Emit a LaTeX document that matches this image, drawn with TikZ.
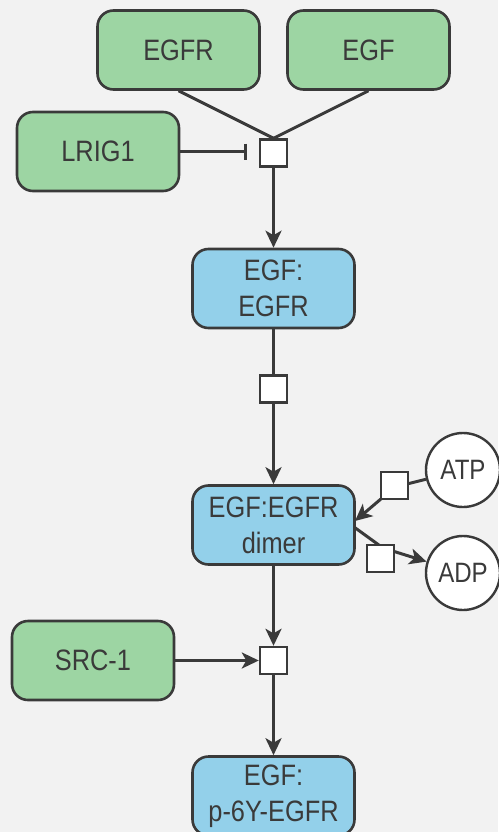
\documentclass[tikz,border=0pt]{standalone}
\usepackage{fontspec}
\setmainfont[FakeStretch=0.86]{Liberation Sans}
\usetikzlibrary{arrows.meta}
\definecolor{bg}{HTML}{F2F2F2}
\definecolor{gfill}{HTML}{9DD5A3}
\definecolor{bfill}{HTML}{93D0EA}
\definecolor{ink}{HTML}{3A3A3A}
\tikzset{
  ent/.style={draw=ink, line width=2.6pt, rounded corners=16pt, minimum width=162pt, minimum height=79pt, inner sep=0pt, text=ink, font=\fontsize{29.5}{36}\selectfont, align=center},
  gent/.style={ent, fill=gfill},
  bent/.style={ent, fill=bfill},
  proc/.style={draw=ink, line width=2.4pt, fill=white, minimum size=27pt, inner sep=0pt},
  mol/.style={draw=ink, line width=2.4pt, fill=white, circle, minimum size=74pt, inner sep=0pt, text=ink, font=\fontsize{28}{30}\selectfont},
  conn/.style={draw=ink, line width=3pt},
  arr/.style={conn, -{Stealth[length=17pt,width=16pt,inset=4.5pt]}},
  inh/.style={conn, -{Bar[width=16pt,line width=3pt]}}
}
\begin{document}
\begin{tikzpicture}[x=1pt,y=-1pt]
\fill[bg] (0,0) rectangle (498,832);
\useasboundingbox (0,0) rectangle (498,832);
\node[gent] (EGFR) at (178.5,50) {EGFR};
\node[gent] (EGF) at (368.5,50) {EGF};
\node[gent] (LRIG) at (98,151.5) {LRIG1};
\node[proc] (p1) at (273.5,153) {};
\node[bent] (C1) at (273.5,288.5) {EGF:\\EGFR};
\node[proc] (p2) at (273.5,389) {};
\node[bent] (C2) at (273.5,525) {EGF:EGFR\\dimer};
\node[mol] (ATP) at (463,470) {ATP};
\node[mol] (ADP) at (463,573) {ADP};
\node[gent] (SRC) at (93,660.5) {SRC-1};
\node[proc] (p3) at (273.5,660.5) {};
\node[bent] (C3) at (273.5,796) {EGF:\\p-6Y-EGFR};
\coordinate (dA) at (355,521);
\coordinate (dB) at (354,527);
\draw[conn] (EGFR.south) -- (p1.north);
\draw[conn] (EGF.south) -- (p1.north);
\draw[inh, shorten >=12pt] (LRIG.east) -- (LRIG.east -| p1.west);
\draw[arr] (p1.south) -- (C1.north);
\draw[conn] (C1.south) -- (p2.north);
\draw[arr] (p2.south) -- (C2.north);
\draw[conn] (ATP) -- (395,487);
\draw[arr] (395,487) -- (dA);
\draw[conn] (dB) -- (383,548);
\draw[arr] (383,548) -- (ADP);
\node[proc] (pa) at (394.5,485.5) {};
\node[proc] (pd) at (380.5,558.5) {};
\draw[arr] (C2.south) -- (p3.north);
\draw[arr] (SRC.east) -- (p3.west);
\draw[arr] (p3.south) -- (C3.north);
\end{tikzpicture}
\end{document}
